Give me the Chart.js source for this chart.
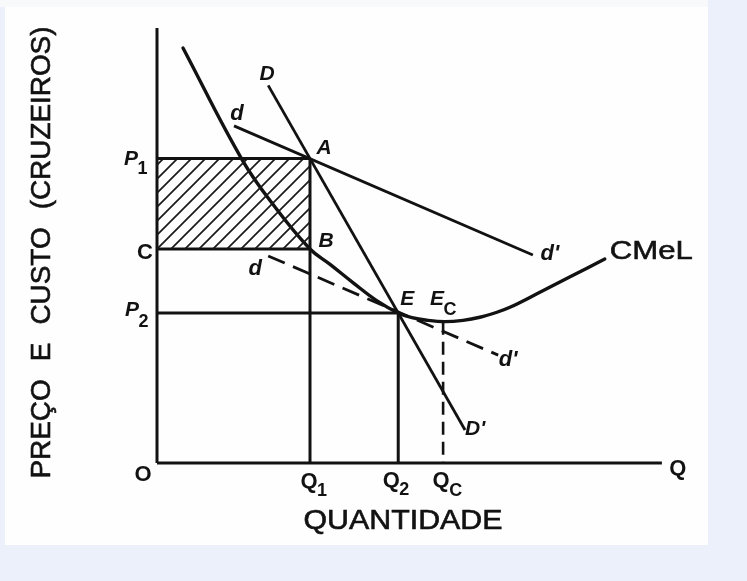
<!DOCTYPE html>
<html><head><meta charset="utf-8">
<script src="https://cdn.jsdelivr.net/npm/chart.js@4"></script>
<style>html,body{margin:0;padding:0;background:#ebf0fa;overflow:hidden}</style>
</head><body>
<canvas id="c" width="747" height="581"></canvas>
<script>
// ---- Diagram values (abstract units: quantity 0..100, price 0..100) ----
const Q1 = 30, Q2 = 47.3, QC = 56.1;
const P1 = 70, C = 49.2, P2 = 34.5, EC = 32.5;
const axisQ = [0, 99];
const axisP = [0, 100];
// Long-run average cost curve CMeL
const cmelQ = [5.1, 16.7, 23.1, 30, 34, 38.6, 43, 47.3, 50, 53, 56.5, 60, 63.3, 66.5, 69.2, 74.5, 81.0, 87.8];
const cmelP = [95.4, 69.7, 58.9, 49.2, 45.6, 41.3, 37.4, 34.5, 33.4, 32.8, 32.5, 32.8, 33.5, 34.6, 35.8, 38.9, 42.8, 46.9];
// Demand DD'
const demDQ = [21.8, 60.4];
const demDP = [86.8, 7.6];
// Demand dd' (upper, through A)
const demdQ = [15.1, 73.7];
const demdP = [77.5, 47.8];
// Demand dd' (lower, dashed, tangent at E)
const demd2Q = [21.8, 66.9];
const demd2P = [47.6, 24.8];

const INK = '#121212';
const pts = (xs, ys) => xs.map((x, i) => ({x, y: ys[i]}));

// hatch pattern
const pc = document.createElement('canvas'); pc.width = 14; pc.height = 14;
const g = pc.getContext('2d'); g.strokeStyle = '#1a1a1a'; g.lineWidth = 1.7;
g.beginPath(); g.moveTo(-2, 16); g.lineTo(16, -2); g.moveTo(-2, 2); g.lineTo(2, -2); g.moveTo(12, 16); g.lineTo(16, 12); g.stroke();
const hatch = g.createPattern(pc, 'repeat');

function line(data, extra) {
  return Object.assign({data, showLine: true, pointRadius: 0, borderColor: INK, borderWidth: 3,
    fill: false, clip: false, tension: 0, borderCapStyle: 'butt'}, extra || {});
}

const datasets = [
  line(pts([0, Q1], [P1, P1]), {fill: {value: C}, backgroundColor: hatch}),
  line(pts([0, 0], axisP)),
  line(pts(axisQ, [0, 0])),
  line(pts([0, Q1], [C, C])),
  line(pts([0, Q2], [P2, P2])),
  line(pts([Q1, Q1], [P1, 0])),
  line(pts([Q2, Q2], [P2, 0])),
  line(pts([QC, QC], [EC, 0]), {borderDash: [13, 7], borderWidth: 2.6}),
  line(pts(demDQ, demDP), {borderWidth: 2.8}),
  line(pts(demdQ, demdP), {borderWidth: 2.8}),
  line(pts(demd2Q, demd2P), {borderDash: [18, 9], borderWidth: 2.8}),
  line(pts(cmelQ, cmelP), {tension: 0.4, borderWidth: 3.4, borderCapStyle: 'round'})
];

// text labels anchored at diagram values, offset in pixels
const LET = 'italic bold 21px "Liberation Sans"';
const QF = 'bold 22px "Liberation Sans"';
const QS = 'bold 18px "Liberation Sans"';
const DF = 'italic bold 22px "Liberation Sans"';
const labels = [
  {t: 'P', s: '1', x: 0, y: P1, dx: -26, dy: 1, f: LET, sf: QS, sdy: 10},
  {t: 'C', x: 0, y: C, dx: -12, dy: 4, f: QF},
  {t: 'P', s: '2', x: 0, y: P2, dx: -25, dy: -3, f: LET, sf: QS, sdy: 12},
  {t: 'O', x: 0, y: 0, dx: -14, dy: 12, f: QF},
  {t: 'Q', s: '1', x: Q1, y: 0, dx: -1, dy: 19, f: QF, sf: QS, sdy: 9},
  {t: 'Q', s: '2', x: Q2, y: 0, dx: -7, dy: 18, f: QF, sf: QS, sdy: 9},
  {t: 'Q', s: 'C', x: QC, y: 0, dx: -2, dy: 18, f: QF, sf: QS, sdy: 10},
  {t: 'Q', x: axisQ[1], y: 0, dx: 16, dy: 6, f: QF},
  {t: 'D', x: demDQ[0], y: demDP[0], dx: -1, dy: -11, f: LET},
  {t: 'd', x: demdQ[0], y: demdP[0], dx: 3, dy: -12, f: DF},
  {t: 'A', x: Q1, y: P1, dx: 14, dy: -10, f: LET},
  {t: 'B', x: Q1, y: C, dx: 16, dy: -8, f: LET},
  {t: 'd', x: demd2Q[0], y: demd2P[0], dx: -13, dy: 13, f: DF},
  {t: 'E', x: Q2, y: P2, dx: 9, dy: -14, f: LET},
  {t: 'E', s: 'C', x: QC, y: EC, dx: -6, dy: -22, f: LET, sf: QS, sdy: 10},
  {t: "d'", x: demdQ[1], y: demdP[1], dx: 17, dy: -1, f: DF},
  {t: "d'", x: demd2Q[1], y: demd2P[1], dx: 10, dy: 5, f: DF},
  {t: "D'", x: demDQ[1], y: demDP[1], dx: 10, dy: -1, f: LET},
  {t: 'CMeL', x: cmelQ[cmelQ.length - 1], y: cmelP[cmelP.length - 1], dx: 5, dy: -7,
   f: '26px "Liberation Sans"', w: 83}
];
const xTitle = 'QUANTIDADE';
const yTitle = 'PREÇO E CUSTO (CRUZEIROS)';

function heavyText(ctx, t) {
  ctx.fillText(t, 0, 0);
  ctx.lineWidth = 0.6; ctx.strokeStyle = INK; ctx.strokeText(t, 0, 0);
}

const textPlugin = {
  id: 'texts',
  beforeDraw(chart) {
    const ctx = chart.ctx;
    ctx.save();
    ctx.fillStyle = '#ebf0fa'; ctx.fillRect(0, 0, 747, 581);
    ctx.fillStyle = '#f8f9fb'; ctx.fillRect(0, 0, 708, 7);
    ctx.fillStyle = '#fefefe'; ctx.fillRect(5, 7, 703, 538);
    ctx.restore();
  },
  afterDatasetsDraw(chart) {
    const ctx = chart.ctx, xs = chart.scales.x, ys = chart.scales.y;
    ctx.save();
    ctx.fillStyle = INK;
    ctx.textBaseline = 'middle';
    for (const L of labels) {
      const px = xs.getPixelForValue(L.x) + L.dx, py = ys.getPixelForValue(L.y) + L.dy;
      ctx.font = L.f;
      const mw = ctx.measureText(L.t).width;
      if (L.w) {
        ctx.save(); ctx.translate(px, py); ctx.scale(L.w / mw, 1);
        ctx.textAlign = 'left'; heavyText(ctx, L.t); ctx.restore();
        continue;
      }
      ctx.textAlign = 'center';
      ctx.fillText(L.t, px, py);
      if (L.s) {
        ctx.font = L.sf; ctx.textAlign = 'left';
        ctx.fillText(L.s, px + mw / 2 - 0.5, py + L.sdy);
      }
    }
    const ca = chart.chartArea;
    // x title
    ctx.font = '27px "Liberation Sans"';
    let w = ctx.measureText(xTitle).width;
    ctx.save(); ctx.translate(xs.getPixelForValue(50) - 9, ca.bottom + 59);
    ctx.scale(199 / w, 1); ctx.textAlign = 'center'; heavyText(ctx, xTitle); ctx.restore();
    // y title
    ctx.font = '27px "Liberation Sans"';
    if ('wordSpacing' in ctx) ctx.wordSpacing = '10px';
    w = ctx.measureText(yTitle).width;
    ctx.save(); ctx.translate(ca.left - 114.5, ys.getPixelForValue(50) + 7);
    ctx.rotate(-Math.PI / 2); ctx.scale(452 / w, 1);
    ctx.textAlign = 'center'; heavyText(ctx, yTitle); ctx.restore();
    if ('wordSpacing' in ctx) ctx.wordSpacing = '0px';
    ctx.restore();
  }
};

new Chart(document.getElementById('c'), {
  type: 'scatter',
  data: {datasets},
  options: {
    responsive: false, animation: false, devicePixelRatio: 1,
    layout: {padding: {left: 157, right: 80, top: 28, bottom: 118}},
    plugins: {legend: {display: false}, tooltip: {enabled: false}},
    scales: {
      x: {type: 'linear', min: 0, max: 100, display: false},
      y: {type: 'linear', min: 0, max: 100, display: false}
    }
  },
  plugins: [textPlugin]
});
</script>
</body></html>
